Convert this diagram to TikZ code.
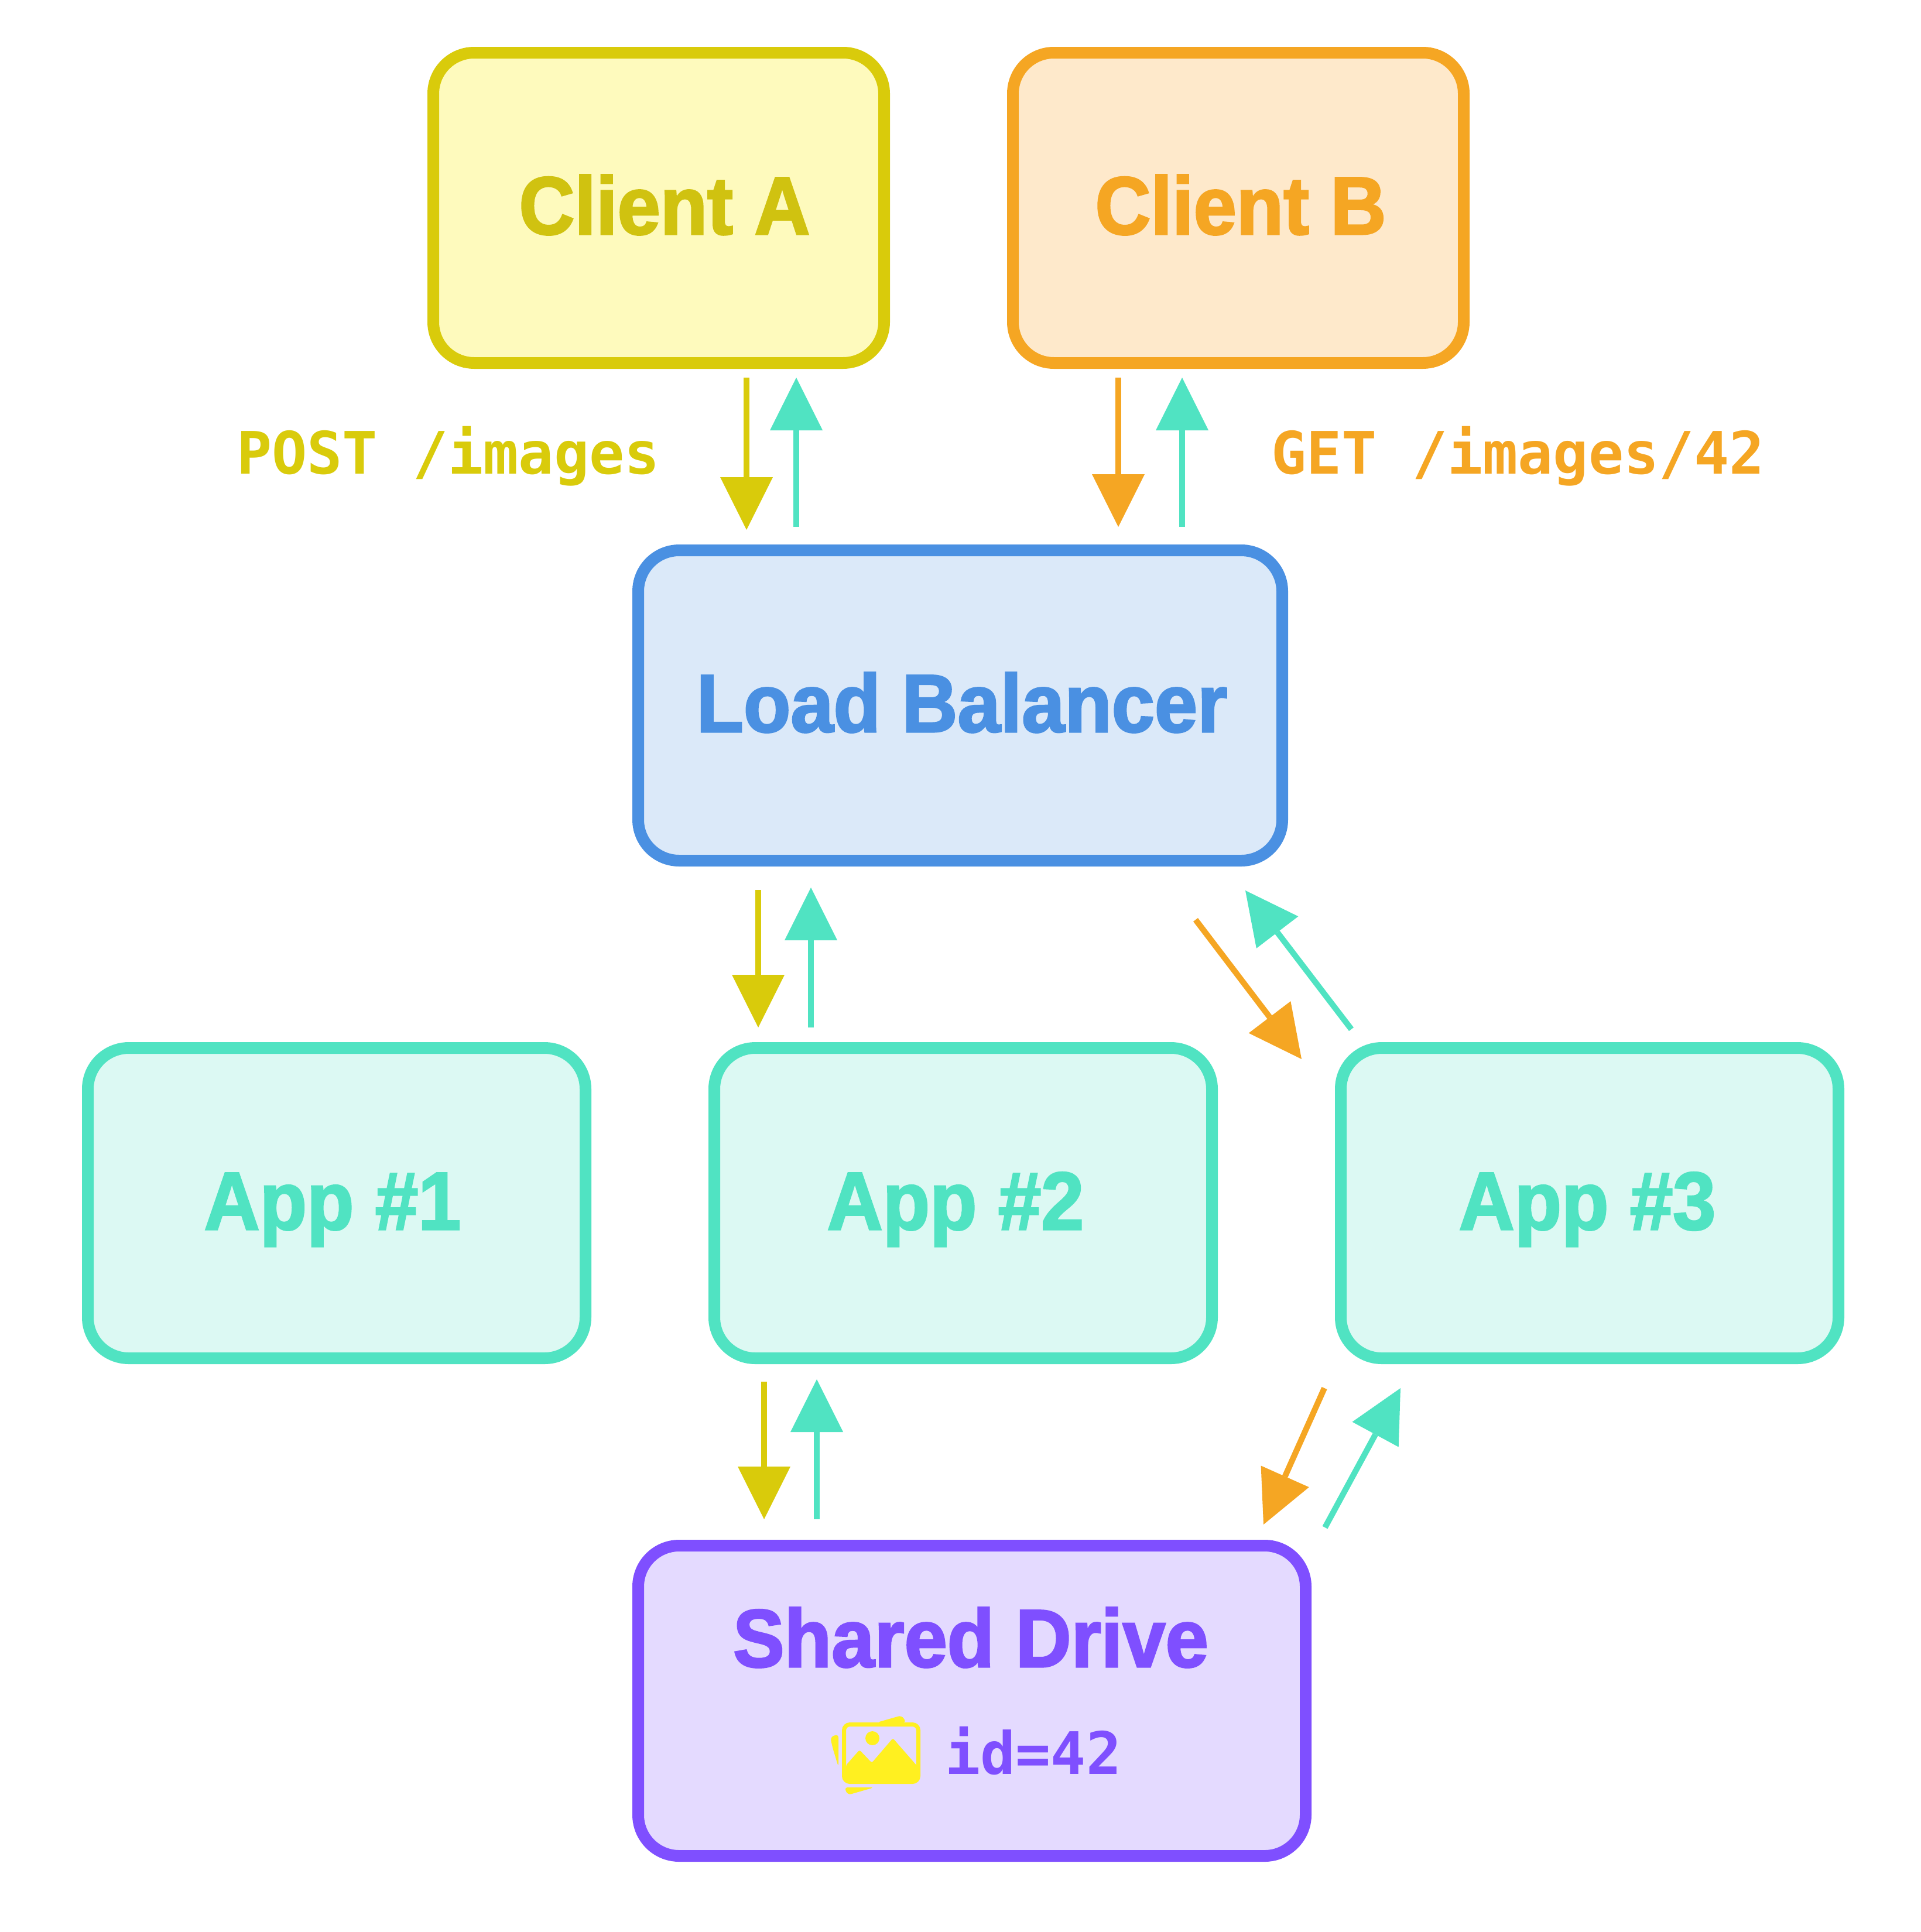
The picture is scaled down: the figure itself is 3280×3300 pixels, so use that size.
\documentclass[tikz,border=0pt]{standalone}
\usepackage{fontspec}
\usetikzlibrary{arrows.meta,positioning}
\newfontfamily\boxfont{Liberation Sans}[BoldFeatures={FakeStretch=0.94,FakeBold=2.2}]
\newfontfamily\reqfont{DejaVu Sans Mono}
\definecolor{clienta}{HTML}{D9CB0B}
\definecolor{clientatext}{HTML}{D0C210}
\definecolor{clientafill}{HTML}{FEFABD}
\definecolor{clientb}{HTML}{F5A623}
\definecolor{clientbfill}{HTML}{FEE9CB}
\definecolor{balancer}{HTML}{4A90E2}
\definecolor{balancerfill}{HTML}{DBE9F9}
\definecolor{appgreen}{HTML}{50E3C2}
\definecolor{appfill}{HTML}{DCF9F3}
\definecolor{drive}{HTML}{7F4FFF}
\definecolor{drivefill}{HTML}{E4DAFF}
\definecolor{picture}{HTML}{FFF020}
\tikzset{
    box/.style={rectangle,draw,line width=20pt,rounded corners=70pt,inner sep=0pt,
        minimum width=#1,minimum height=530pt,text height=100pt,text depth=10pt,
        font=\boxfont\bfseries\fontsize{140}{140}\selectfont},
    client_a_box/.style={box=770pt,draw=clienta,fill=clientafill,text=clientatext},
    client_b_box/.style={box=770pt,draw=clientb,fill=clientbfill,text=clientb},
    balancer_box/.style={box=1100pt,draw=balancer,fill=balancerfill,text=balancer},
    app_box/.style={box=850pt,draw=appgreen,fill=appfill,text=appgreen},
    drive_box/.style={box=1140pt,draw=drive,fill=drivefill},
    req_label/.style={anchor=base west,inner sep=0pt,
        font=\reqfont\bfseries\fontsize{100}{100}\selectfont},
    flow/.style={line width=10pt,color=#1,
        -{Triangle[length=90pt,width=90pt,line width=0pt]}}
}
\begin{document}
\begin{tikzpicture}[x=1pt,y=-1pt,node distance=1070pt,on grid]
    \useasboundingbox (0,0) rectangle (3280,3300);
    % boxes
    \node[client_a_box]                 (client_a) at (1125,355) {\hspace*{20pt}Client A};
    \node[client_b_box,right=990pt of client_a] (client_b) {\hspace*{8pt}Client B};
    \node[balancer_box]                 (load_balancer) at (1640,1205) {\hspace*{6pt}Load Balancer};
    \node[app_box]                      (app_1) at (575,2055) {\hspace*{-14pt}App \#1};
    \node[app_box,right of=app_1]       (app_2) {\hspace*{-26pt}App \#2};
    \node[app_box,right of=app_2]       (app_3) {\hspace*{-8pt}App \#3};
    \node[drive_box]                    (shared_drive) at (1660,2905) {};
    % labels
    \node[req_label,text=clienta] (post_label) at (404,809) {POST /images};
    \node[req_label,text=clientb] (get_label) at (2171,809) {GET /images/42};
    \node[anchor=base,inner sep=0pt,text=drive,font=\boxfont\bfseries\fontsize{140}{140}\selectfont]
        (drive_title) at (1658,2847) {Shared Drive};
    \node[req_label,text=drive] (drive_id) at (1614,3030) {id=42};
    % picture icon
    \draw[picture,line width=7pt,rounded corners=10pt] (1441.5,2945.5) rectangle (1568.5,3043.5);
    \fill[picture,rounded corners=3pt] (1445,3015) -- (1468,2989) -- (1489,3011) -- (1525,2969)
        -- (1566,3016) -- (1566,3040) -- (1445,3040) -- cycle;
    \fill[picture] (1490,2969) circle (12pt);
    \fill[picture,rounded corners=6pt] (1498,2942) -- (1540,2930) -- (1548,2942) -- cycle;
    \fill[picture,rounded corners=6pt] (1432,2962) -- (1418,2967) -- (1422,2985) -- (1432,3018) -- cycle;
    \fill[picture,rounded corners=6pt] (1442,3053) -- (1448,3066) -- (1493,3053) -- cycle;
    % arrow ends
    \coordinate (a_0) at (1275,645);  \coordinate (a_1) at (1275,905);
    \coordinate (b_0) at (1360,900);  \coordinate (b_1) at (1360,645);
    \coordinate (c_0) at (1910,645);  \coordinate (c_1) at (1910,900);
    \coordinate (d_0) at (2019,900);  \coordinate (d_1) at (2019,645);
    \coordinate (e_0) at (1295,1520); \coordinate (e_1) at (1295,1755);
    \coordinate (f_0) at (1385,1755); \coordinate (f_1) at (1385,1516);
    \coordinate (g_0) at (2042,1571); \coordinate (g_1) at (2223,1809);
    \coordinate (h_0) at (2308,1758); \coordinate (h_1) at (2127,1521);
    \coordinate (i_0) at (1305,2360); \coordinate (i_1) at (1305,2595);
    \coordinate (j_0) at (1395,2595); \coordinate (j_1) at (1395,2356);
    \coordinate (k_0) at (2262,2371); \coordinate (k_1) at (2158,2604);
    \coordinate (l_0) at (2263,2609); \coordinate (l_1) at (2392,2371);
    % arrows
    \path[flow=clienta]
    (a_0) edge (a_1)
    (e_0) edge (e_1)
    (i_0) edge (i_1);
    \path[flow=clientb]
    (c_0) edge (c_1)
    (g_0) edge (g_1)
    (k_0) edge (k_1);
    \path[flow=appgreen]
    (b_0) edge (b_1)
    (d_0) edge (d_1)
    (f_0) edge (f_1)
    (h_0) edge (h_1)
    (j_0) edge (j_1)
    (l_0) edge (l_1);
\end{tikzpicture}
\end{document}
